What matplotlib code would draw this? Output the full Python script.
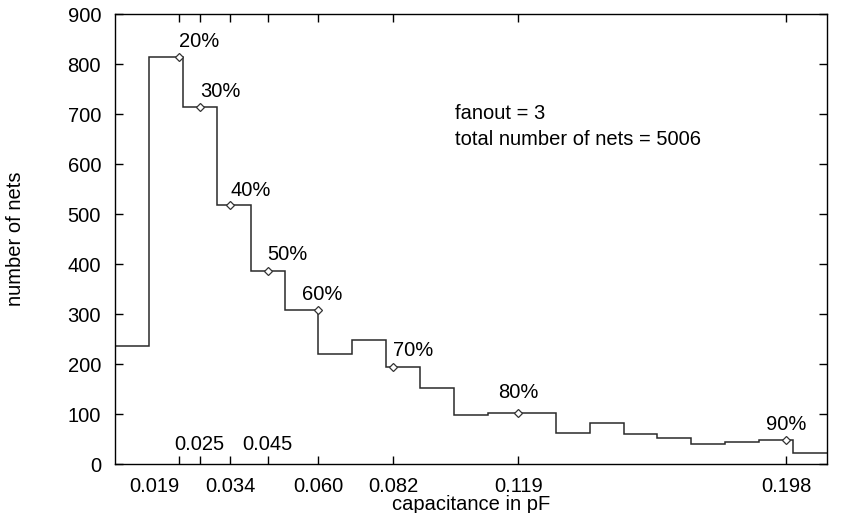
import numpy as np
import matplotlib
matplotlib.use('Agg')
import matplotlib.pyplot as plt
from matplotlib.transforms import ScaledTranslation

plt.rcParams['font.family'] = ['Liberation Sans', 'DejaVu Sans']

# histogram of net capacitance (bin edges in pF, counts per bin)
bin_edges = [0.00, 0.01, 0.02, 0.03, 0.04, 0.05, 0.06, 0.07, 0.08, 0.09, 0.10,
             0.11, 0.12, 0.13, 0.14, 0.15, 0.16, 0.17, 0.18, 0.19, 0.20, 0.21]
counts = [237, 815, 715, 519, 387, 308, 221, 249, 195, 152, 98,
          103, 103, 62, 83, 61, 53, 41, 45, 48, 23]

# percentile markers
pct_labels = ['20%', '30%', '40%', '50%', '60%', '70%', '80%', '90%']
pct_x = [0.019, 0.025, 0.034, 0.045, 0.060, 0.082, 0.119, 0.198]
pct_y = [815, 715, 519, 387, 308, 195, 103, 48]
pct_ticklabels = ['0.019', '0.025', '0.034', '0.045', '0.060', '0.082', '0.119', '0.198']
inside_ticks = ['0.025', '0.045']       # these labels sit inside the plot

# label offsets in pixels (dx, dy)
label_off = [(0, 15), (0, 15), (0, 14), (0, 16), (-16, 15), (0, 16), (-20, 20), (-20, 15)]

fs = 14.5

fig = plt.figure(figsize=(8.65, 5.13), dpi=100)
ax = fig.add_axes([115/865, 49/513, 712/865, 450/513])

ax.stairs(counts, bin_edges, baseline=None, color='#2a2a2a', lw=1.1)
ax.plot(pct_x, pct_y, ls='none', marker='D', ms=3.8, mfc='white', mec='#333333', mew=0.9)

for lab, x, y, (dx, dy) in zip(pct_labels, pct_x, pct_y, label_off):
    ax.annotate(lab, (x, y), xytext=(dx, dy), textcoords='offset pixels',
                ha='left', va='center', fontsize=fs)

ax.set_xlim(0, 0.21)
ax.set_ylim(0, 900)
ax.set_yticks(np.arange(0, 901, 100))
ax.set_xticks(pct_x)
ax.set_xticklabels(['' if t in inside_ticks else t for t in pct_ticklabels])
for t, x in zip(pct_ticklabels, pct_x):
    if t in inside_ticks:
        ax.text(x, 40, t, ha='center', va='center', fontsize=fs)

ax.tick_params(direction='in', top=True, right=True, length=6, width=1,
               labelsize=fs, colors='black')
ax.tick_params(axis='x', pad=9)
ax.tick_params(axis='y', pad=10)
for sp in ax.spines.values():
    sp.set_linewidth(1)

# shift the first tick label left so it clears the 0.025 tick
lbl = ax.get_xticklabels()[0]
lbl.set_transform(lbl.get_transform() + ScaledTranslation(-25/100, 0, fig.dpi_scale_trans))

ax.text(0.1003, 702, 'fanout = 3', ha='left', va='center', fontsize=fs)
ax.text(0.1003, 650, 'total number of nets = 5006', ha='left', va='center', fontsize=fs)

fig.text(15.5/865, 1 - 238.5/513, 'number of nets', rotation=90, ha='center', va='center', fontsize=fs)
fig.text(471/865, 1 - 504/513, 'capacitance in pF', ha='center', va='center', fontsize=fs)

fig.savefig('out.png', dpi=100)
